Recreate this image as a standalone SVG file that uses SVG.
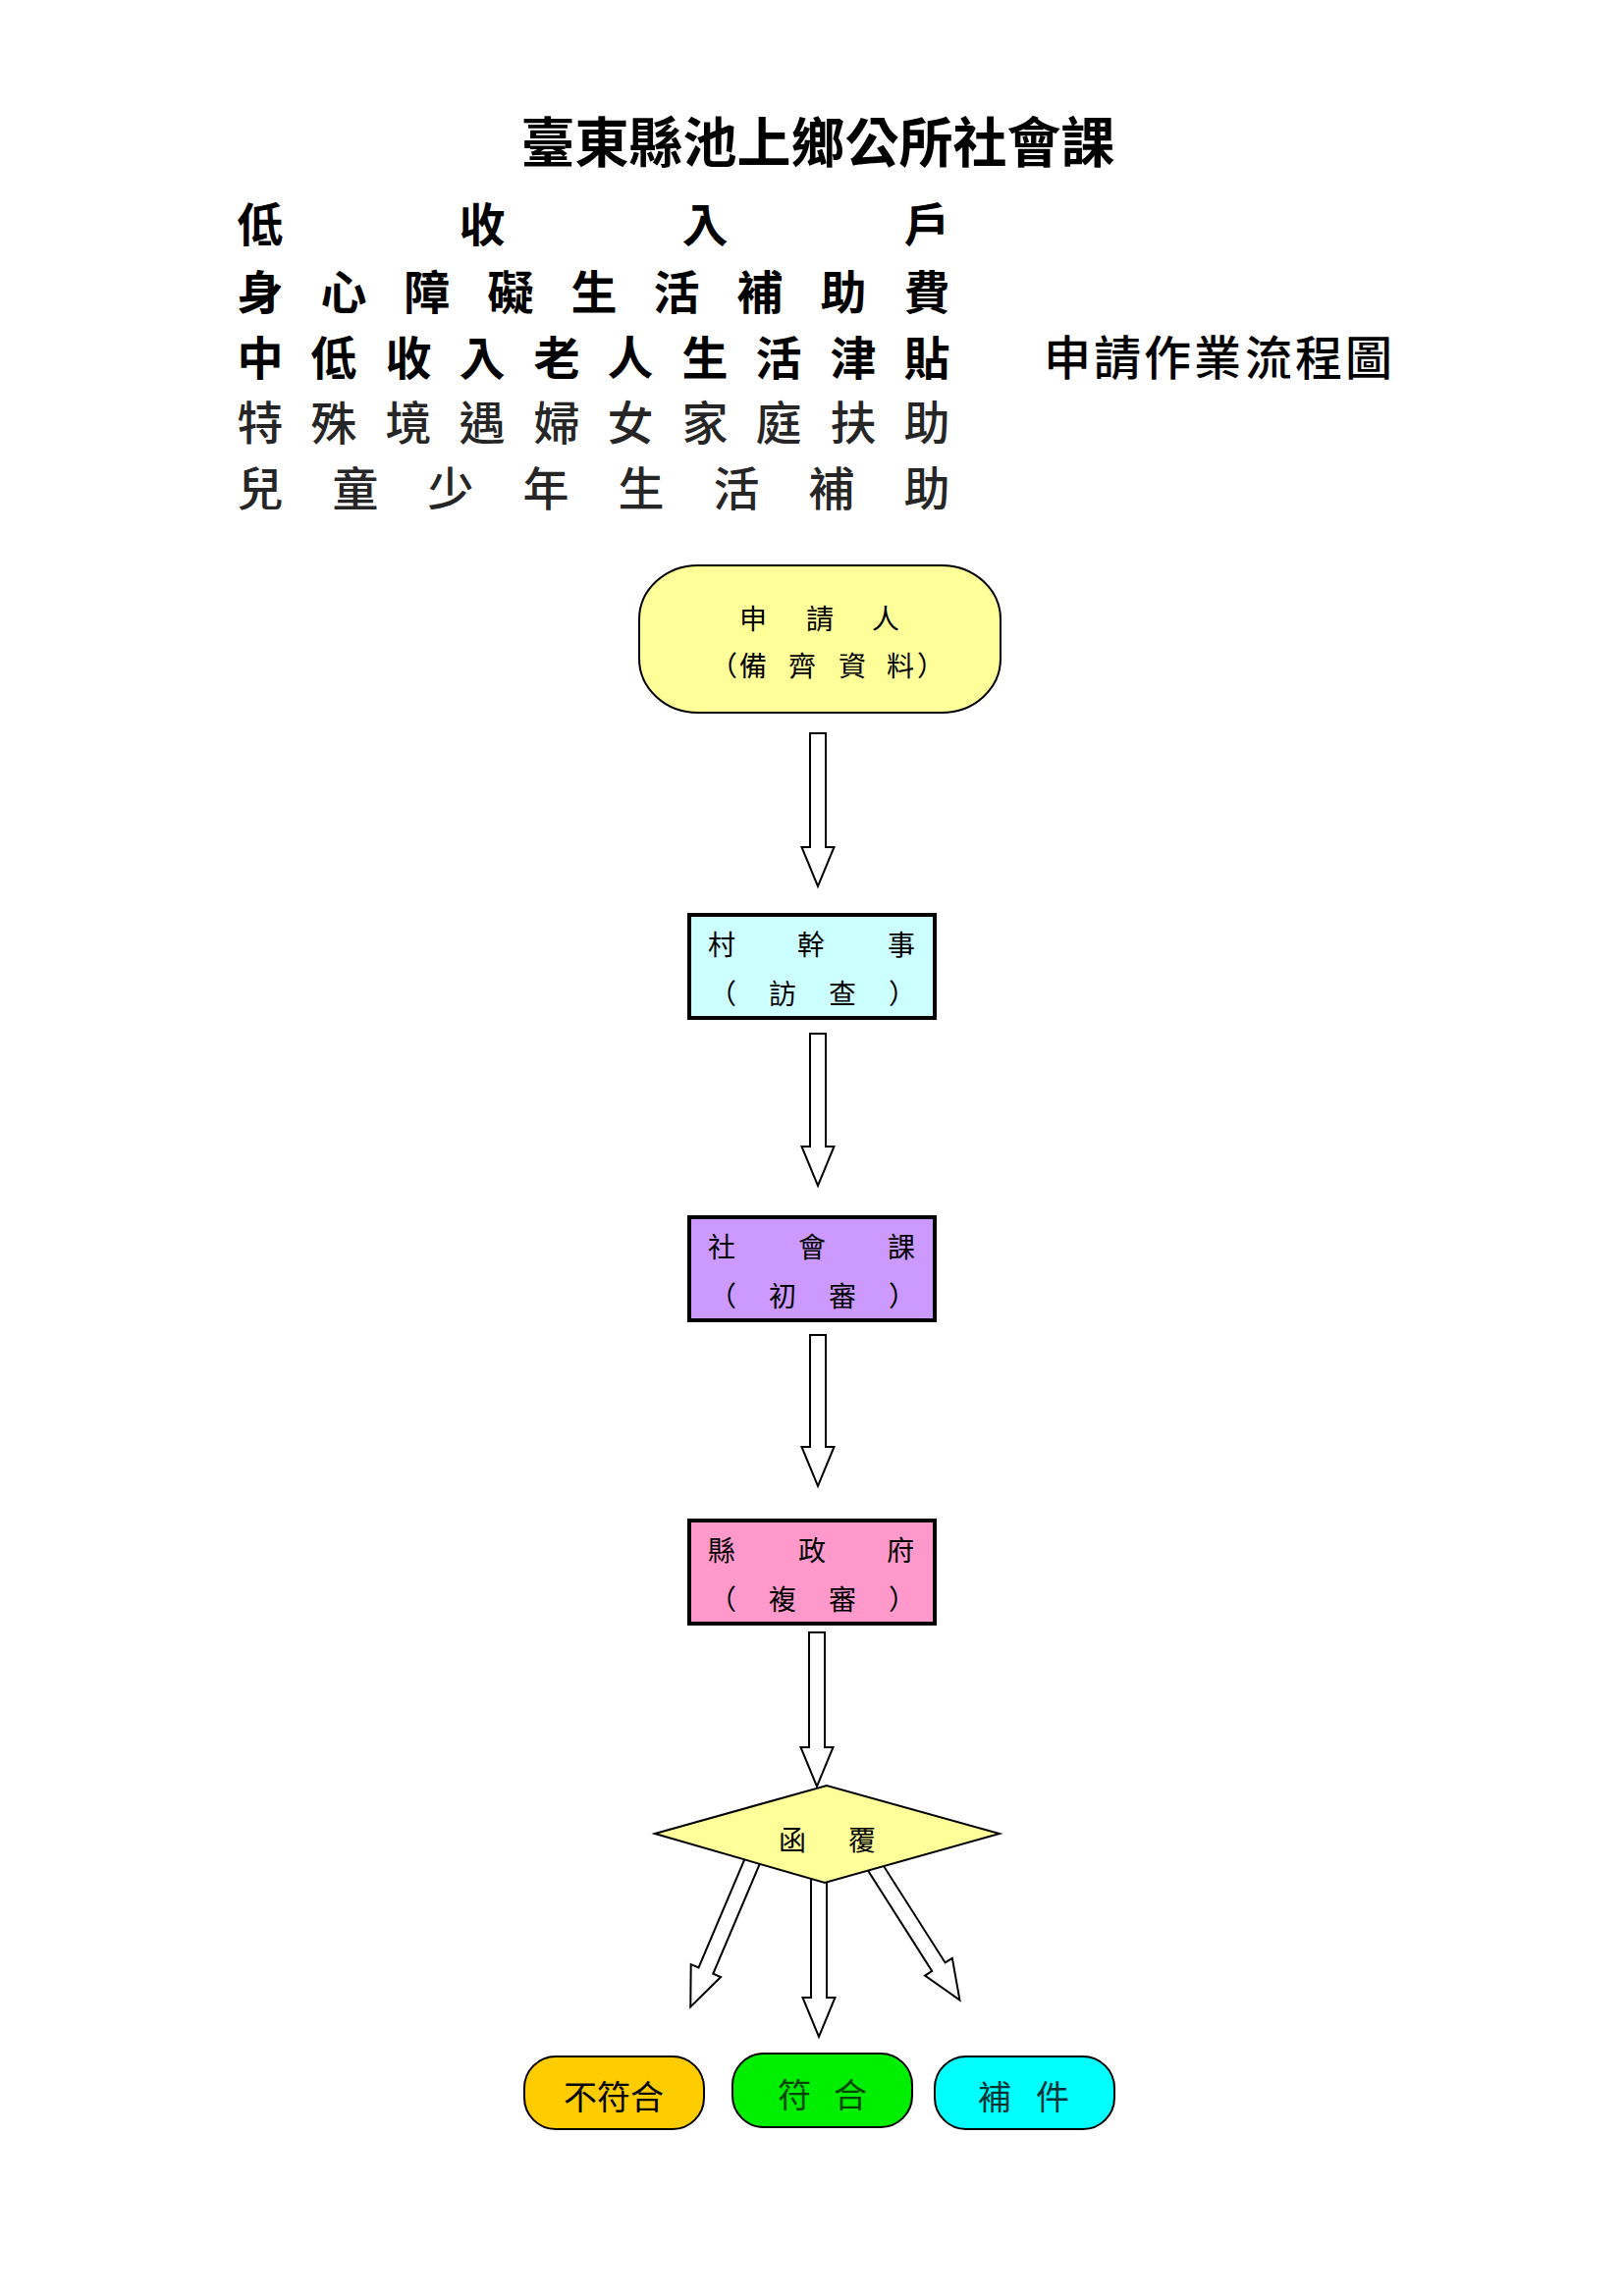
<svg xmlns="http://www.w3.org/2000/svg" width="1654" height="2339" viewBox="0 0 1654 2339">
<style>
text{font-family:"Noto Sans CJK TC","Noto Sans CJK SC",sans-serif;text-anchor:middle;fill:#000}
.title{font-size:55px;font-weight:700}
.h{font-size:47px;font-weight:700}
.hl{font-size:47px;font-weight:500;fill:#262626}
.h2{font-size:48px;font-weight:500}
.t{font-size:28px}
.b{font-size:34px}
.arrow{fill:#fff;stroke:#000;stroke-width:2;stroke-linejoin:miter}
.box{stroke:#000;stroke-width:4}
.rnd{stroke:#000;stroke-width:2}
</style>
<rect width="1654" height="2339" fill="#fff"/>

<g id="header">
<text class="title" x="833" y="165">臺東縣池上鄉公所社會課</text>
<text class="h" x="265" y="246">低</text><text class="h" x="491" y="246">收</text><text class="h" x="718" y="246">入</text><text class="h" x="944" y="246">戶</text>
<text class="h" x="265" y="315">身</text><text class="h" x="350" y="315">心</text><text class="h" x="435" y="315">障</text><text class="h" x="520" y="315">礙</text><text class="h" x="605" y="315">生</text><text class="h" x="689" y="315">活</text><text class="h" x="774" y="315">補</text><text class="h" x="859" y="315">助</text><text class="h" x="944" y="315">費</text>
<text class="h" x="265" y="382">中</text><text class="h" x="340" y="382">低</text><text class="h" x="416" y="382">收</text><text class="h" x="491" y="382">入</text><text class="h" x="567" y="382">老</text><text class="h" x="642" y="382">人</text><text class="h" x="718" y="382">生</text><text class="h" x="793" y="382">活</text><text class="h" x="869" y="382">津</text><text class="h" x="944" y="382">貼</text>
<text class="h2" x="1087" y="382">申</text><text class="h2" x="1138" y="382">請</text><text class="h2" x="1189" y="382">作</text><text class="h2" x="1240" y="382">業</text><text class="h2" x="1292" y="382">流</text><text class="h2" x="1343" y="382">程</text><text class="h2" x="1394" y="382">圖</text>
<text class="hl" x="265" y="448">特</text><text class="hl" x="340" y="448">殊</text><text class="hl" x="416" y="448">境</text><text class="hl" x="491" y="448">遇</text><text class="hl" x="567" y="448">婦</text><text class="hl" x="642" y="448">女</text><text class="hl" x="718" y="448">家</text><text class="hl" x="793" y="448">庭</text><text class="hl" x="869" y="448">扶</text><text class="hl" x="944" y="448">助</text>
<text class="hl" x="265" y="515">兒</text><text class="hl" x="362" y="515">童</text><text class="hl" x="459" y="515">少</text><text class="hl" x="556" y="515">年</text><text class="hl" x="653" y="515">生</text><text class="hl" x="750" y="515">活</text><text class="hl" x="847" y="515">補</text><text class="hl" x="944" y="515">助</text>
</g>

<g id="connectors">
<polygon class="arrow" points="825,747 841,747 841,863 849.5,863 833,903 816.5,863 825,863"/>
<polygon class="arrow" points="825,1053 841,1053 841,1168 849.5,1168 833,1208 816.5,1168 825,1168"/>
<polygon class="arrow" points="825,1360 841,1360 841,1474 849.5,1474 833,1514 816.5,1474 825,1474"/>
<polygon class="arrow" points="824,1663 840,1663 840,1780 848.5,1780 832,1820 815.5,1780 824,1780"/>
<polygon class="arrow" points="826,1912 842,1912 842,2035 850.5,2035 834,2075 817.5,2035 826,2035"/>
<polygon class="arrow" transform="translate(768.9,1889.8) rotate(23)" points="-8,0 8,0 8,128 16.5,128 0,168 -16.5,128 -8,128"/>
<polygon class="arrow" transform="translate(887.7,1896.6) rotate(-32.5)" points="-8,0 8,0 8,127 16.5,127 0,167 -16.5,127 -8,127"/>
</g>

<g id="applicant">
<rect class="rnd" x="651" y="576" width="368" height="150" rx="60" ry="55" fill="#FFFF99"/>
<text class="t" x="767" y="641">申</text><text class="t" x="835" y="641">請</text><text class="t" x="902" y="641">人</text>
<text class="t" x="737" y="689">（</text><text class="t" x="767" y="689">備</text><text class="t" x="817" y="689">齊</text><text class="t" x="868" y="689">資</text><text class="t" x="917" y="689">料</text><text class="t" x="948" y="689">）</text>
</g>

<g id="village">
<rect class="box" x="702" y="932" width="250" height="105" fill="#CCFFFF"/>
<text class="t" x="735" y="973">村</text><text class="t" x="826" y="973">幹</text><text class="t" x="918" y="973">事</text>
<text class="t" x="736" y="1023">（</text><text class="t" x="797" y="1023">訪</text><text class="t" x="858" y="1023">查</text><text class="t" x="919" y="1023">）</text>
</g>

<g id="social">
<rect class="box" x="702" y="1240" width="250" height="105" fill="#CC99FF"/>
<text class="t" x="735" y="1281">社</text><text class="t" x="827" y="1281">會</text><text class="t" x="918" y="1281">課</text>
<text class="t" x="736" y="1331">（</text><text class="t" x="797" y="1331">初</text><text class="t" x="858" y="1331">審</text><text class="t" x="919" y="1331">）</text>
</g>

<g id="county">
<rect class="box" x="702" y="1549" width="250" height="105" fill="#FF99CC"/>
<text class="t" x="735" y="1590">縣</text><text class="t" x="827" y="1590">政</text><text class="t" x="917" y="1590">府</text>
<text class="t" x="736" y="1640">（</text><text class="t" x="797" y="1640">複</text><text class="t" x="858" y="1640">審</text><text class="t" x="919" y="1640">）</text>
</g>

<g id="reply">
<polygon class="rnd" points="667,1868 842,1819 1018,1868 840,1918" fill="#FFFF99"/>
<text class="t" x="807" y="1885">函</text><text class="t" x="878" y="1885">覆</text>
</g>

<g id="reject">
<rect class="rnd" x="534" y="2095" width="183" height="74" rx="32" ry="32" fill="#FFCC00"/>
<text class="b" x="625" y="2149">不符合</text>
</g>
<g id="accept">
<rect class="rnd" x="746" y="2092" width="183" height="75" rx="32" ry="32" fill="#00EE00"/>
<text class="b" x="809" y="2147" style="fill:#004400">符</text><text class="b" x="866" y="2147" style="fill:#004400">合</text>
</g>
<g id="supplement">
<rect class="rnd" x="952" y="2095" width="183" height="74" rx="32" ry="32" fill="#00FFFF"/>
<text class="b" x="1013" y="2149" style="fill:#003333">補</text><text class="b" x="1072" y="2149" style="fill:#003333">件</text>
</g>
</svg>
